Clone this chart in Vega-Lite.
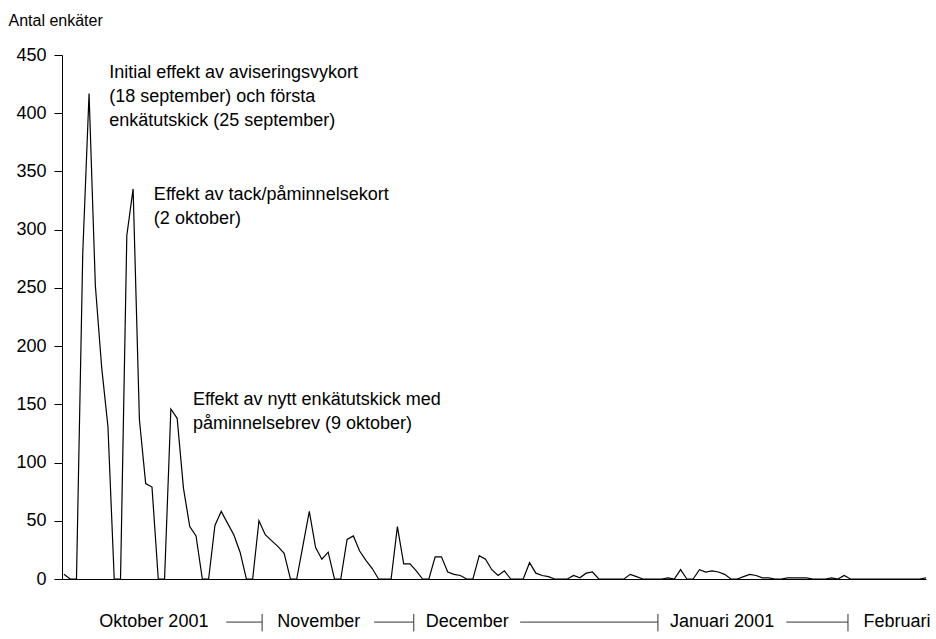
{
  "$schema": "https://vega.github.io/schema/vega-lite/v6.json",
  "width": 864,
  "height": 524,
  "autosize": {"type": "none"},
  "padding": {"left": 62, "top": 55, "right": 10, "bottom": 60},
  "background": "white",
  "config": {
    "font": "Liberation Sans",
    "view": {"stroke": null},
    "axis": {"grid": false}
  },
  "datasets": {
    "svar": [
      {"dag":0,"antal":4},{"dag":1,"antal":0},{"dag":2,"antal":0},{"dag":3,"antal":280},{"dag":4,"antal":417},{"dag":5,"antal":252},{"dag":6,"antal":182},{"dag":7,"antal":131},{"dag":8,"antal":0},{"dag":9,"antal":0},
      {"dag":10,"antal":295},{"dag":11,"antal":335},{"dag":12,"antal":137},{"dag":13,"antal":82},{"dag":14,"antal":79},{"dag":15,"antal":0},{"dag":16,"antal":0},{"dag":17,"antal":146},{"dag":18,"antal":138},{"dag":19,"antal":78},
      {"dag":20,"antal":45},{"dag":21,"antal":37},{"dag":22,"antal":0},{"dag":23,"antal":0},{"dag":24,"antal":46},{"dag":25,"antal":58},{"dag":26,"antal":48},{"dag":27,"antal":38},{"dag":28,"antal":23},{"dag":29,"antal":0},
      {"dag":30,"antal":0},{"dag":31,"antal":50},{"dag":32,"antal":38},{"dag":33,"antal":33},{"dag":34,"antal":28},{"dag":35,"antal":22},{"dag":36,"antal":0},{"dag":37,"antal":0},{"dag":38,"antal":29},{"dag":39,"antal":58},
      {"dag":40,"antal":27},{"dag":41,"antal":17},{"dag":42,"antal":23},{"dag":43,"antal":0},{"dag":44,"antal":0},{"dag":45,"antal":34},{"dag":46,"antal":37},{"dag":47,"antal":24},{"dag":48,"antal":16},{"dag":49,"antal":9},
      {"dag":50,"antal":0},{"dag":51,"antal":0},{"dag":52,"antal":0},{"dag":53,"antal":45},{"dag":54,"antal":13},{"dag":55,"antal":13},{"dag":56,"antal":7},{"dag":57,"antal":0},{"dag":58,"antal":0},{"dag":59,"antal":19},
      {"dag":60,"antal":19},{"dag":61,"antal":6},{"dag":62,"antal":4},{"dag":63,"antal":3},{"dag":64,"antal":0},{"dag":65,"antal":0},{"dag":66,"antal":20},{"dag":67,"antal":17},{"dag":68,"antal":8},{"dag":69,"antal":3},
      {"dag":70,"antal":7},{"dag":71,"antal":0},{"dag":72,"antal":0},{"dag":73,"antal":0},{"dag":74,"antal":14},{"dag":75,"antal":5},{"dag":76,"antal":3},{"dag":77,"antal":2},{"dag":78,"antal":0},{"dag":79,"antal":0},
      {"dag":80,"antal":0},{"dag":81,"antal":3},{"dag":82,"antal":1},{"dag":83,"antal":5},{"dag":84,"antal":6},{"dag":85,"antal":0},{"dag":86,"antal":0},{"dag":87,"antal":0},{"dag":88,"antal":0},{"dag":89,"antal":0},
      {"dag":90,"antal":4},{"dag":91,"antal":2},{"dag":92,"antal":0},{"dag":93,"antal":0},{"dag":94,"antal":0},{"dag":95,"antal":0},{"dag":96,"antal":1},{"dag":97,"antal":0},{"dag":98,"antal":8},{"dag":99,"antal":0},
      {"dag":100,"antal":0},{"dag":101,"antal":8},{"dag":102,"antal":6},{"dag":103,"antal":7},{"dag":104,"antal":6},{"dag":105,"antal":4},{"dag":106,"antal":0},{"dag":107,"antal":0},{"dag":108,"antal":2},{"dag":109,"antal":4},
      {"dag":110,"antal":3},{"dag":111,"antal":1},{"dag":112,"antal":1},{"dag":113,"antal":0},{"dag":114,"antal":0},{"dag":115,"antal":1},{"dag":116,"antal":1},{"dag":117,"antal":1},{"dag":118,"antal":1},{"dag":119,"antal":0},
      {"dag":120,"antal":0},{"dag":121,"antal":0},{"dag":122,"antal":1},{"dag":123,"antal":0},{"dag":124,"antal":3},{"dag":125,"antal":0},{"dag":126,"antal":0},{"dag":127,"antal":0},{"dag":128,"antal":0},{"dag":129,"antal":0},
      {"dag":130,"antal":0},{"dag":131,"antal":0},{"dag":132,"antal":0},{"dag":133,"antal":0},{"dag":134,"antal":0},{"dag":135,"antal":0},{"dag":136,"antal":0},{"dag":137,"antal":1}
    ],
    "anteckningar": [
      {"dag":7.2,"antal":442,"text":"Initial effekt av aviseringsvykort\n(18 september) och första\nenkätutskick (25 september)"},
      {"dag":14.3,"antal":337.5,"text":"Effekt av tack/påminnelsekort\n(2 oktober)"},
      {"dag":20.5,"antal":161.5,"text":"Effekt av nytt enkätutskick med\npåminnelsebrev (9 oktober)"}
    ],
    "manader": [
      {"manad":"Oktober 2001","dag":14.3},
      {"manad":"November","dag":40.5},
      {"manad":"December","dag":64.1},
      {"manad":"Januari 2001","dag":104.6},
      {"manad":"Februari","dag":132.4}
    ],
    "avgransare": [
      {"fran":25.8,"till":31.5},
      {"fran":49.3,"till":55.6},
      {"fran":72.5,"till":94.4},
      {"fran":114.8,"till":124.6}
    ]
  },
  "layer": [
    {
      "data": {"name": "svar"},
      "mark": {"type": "line", "color": "black", "strokeWidth": 1.2, "strokeJoin": "miter"},
      "encoding": {
        "x": {"field": "dag", "type": "quantitative", "scale": {"domain": [-0.3, 137], "nice": false, "zero": false},
              "axis": {"title": null, "labels": false, "ticks": false, "grid": false, "domainColor": "black", "domainWidth": 1}},
        "y": {"field": "antal", "type": "quantitative", "scale": {"domain": [0, 450], "nice": false},
              "axis": {"title": "Antal enkäter", "titleAngle": 0, "titleAlign": "left", "titleBaseline": "top",
                       "titleX": -54, "titleY": -43, "titleFontSize": 16, "titleFontWeight": "normal", "titleColor": "black",
                       "values": [0,50,100,150,200,250,300,350,400,450], "tickSize": 8, "tickColor": "black", "domainColor": "black",
                       "labelFontSize": 18, "labelColor": "black", "labelPadding": 8, "grid": false}}
      }
    },
    {
      "data": {"name": "anteckningar"},
      "mark": {"type": "text", "align": "left", "baseline": "top", "fontSize": 18, "lineHeight": 24, "lineBreak": "\n", "color": "black"},
      "encoding": {
        "x": {"field": "dag", "type": "quantitative"},
        "y": {"field": "antal", "type": "quantitative"},
        "text": {"field": "text"}
      }
    },
    {
      "data": {"name": "manader"},
      "mark": {"type": "text", "align": "center", "baseline": "middle", "fontSize": 18, "color": "black"},
      "encoding": {
        "x": {"field": "dag", "type": "quantitative"},
        "y": {"datum": -37},
        "text": {"field": "manad"}
      }
    },
    {
      "data": {"name": "avgransare"},
      "mark": {"type": "rule", "color": "#333333", "strokeWidth": 1},
      "encoding": {
        "x": {"field": "fran", "type": "quantitative"},
        "x2": {"field": "till"},
        "y": {"datum": -37}
      }
    },
    {
      "data": {"name": "avgransare"},
      "mark": {"type": "rule", "color": "#333333", "strokeWidth": 1},
      "encoding": {
        "x": {"field": "till", "type": "quantitative"},
        "y": {"datum": -30},
        "y2": {"datum": -45}
      }
    }
  ]
}
